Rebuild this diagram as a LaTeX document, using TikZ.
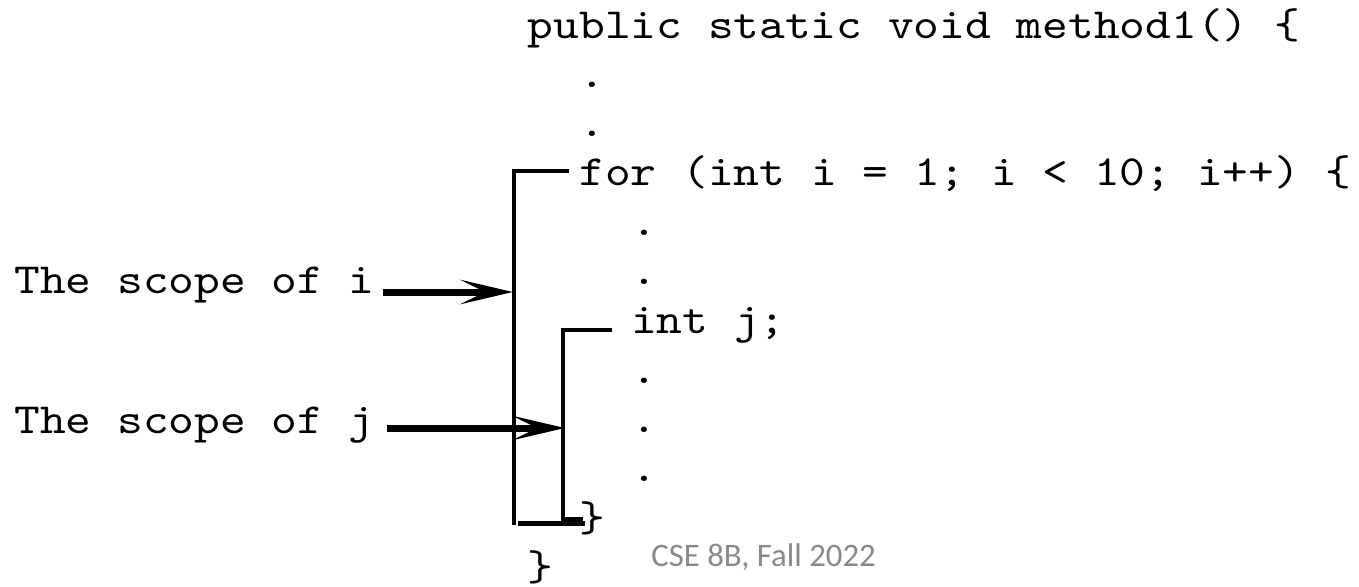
\documentclass[tikz,border=0pt]{standalone}
\usepackage{fontspec}
\setmonofont[FakeStretch=1.14]{lmmono10-regular.otf}
\newfontfamily\footfont{Carlito}
\usetikzlibrary{arrows.meta}
\definecolor{footgray}{RGB}{137,137,137}
\begin{document}
\begin{tikzpicture}[x=0.5pt,y=-0.5pt,
  code/.style={font=\ttfamily\fontsize{21.5}{21.5}\selectfont, anchor=base west, inner sep=0pt},
  bracket/.style={line width=2pt},
  scopearrow/.style={line width=3.5pt, -{Stealth[length=26pt,width=12pt,inset=12pt]}}]
\useasboundingbox (0,0) rectangle (1359,586);
\node[code] (ln0) at (527.5,38) {public static void method1() \{};
\node[code] (ln1) at (579.1,87.3) {.};
\node[code] (ln2) at (579.1,136.6) {.};
\node[code] (ln3) at (579.1,185.9) {for (int i = 1; i < 10; i++) \{};
\node[code] (ln4) at (630.7,235.2) {.};
\node[code] (ln5) at (630.7,284.5) {.};
\node[code] (ln6) at (630.7,333.8) {int j;};
\node[code] (ln7) at (630.7,383.1) {.};
\node[code] (ln8) at (630.7,432.4) {.};
\node[code] (ln9) at (630.7,481.7) {.};
\node[code] (ln10) at (579.1,531) {\}};
\node[code] (ln11) at (527.5,580.3) {\}};
\node[code] (li) at (14,293) {The scope of i};
\node[code] (lj) at (14,433) {The scope of j};
\node[font=\footfont\fontsize{16.4}{16.4}\selectfont, text=footgray, anchor=base west, inner sep=0pt] (foot) at (651,566) {CSE 8B, Fall 2022};
\coordinate (itop) at (569,171);
\coordinate (icorner) at (514,171);
\coordinate (ibot) at (514,525);
\coordinate (ihit) at (513,292);
\coordinate (jtop) at (612,330);
\coordinate (jcorner) at (563,330);
\coordinate (jbot) at (563,519);
\coordinate (jhit) at (565,428);
\draw[bracket] (itop) -- (icorner) -- (ibot);
\draw[bracket, line width=2.5pt] (518,523) -- (585,523);
\draw[bracket] (jtop) -- (jcorner) -- (jbot) -- (583,519);
\draw[scopearrow] ([xshift=4pt,yshift=0.5pt]li.base east) -- (ihit);
\draw[scopearrow] ([xshift=6pt,yshift=2.5pt]lj.base east) -- (jhit);
\end{tikzpicture}
\end{document}
